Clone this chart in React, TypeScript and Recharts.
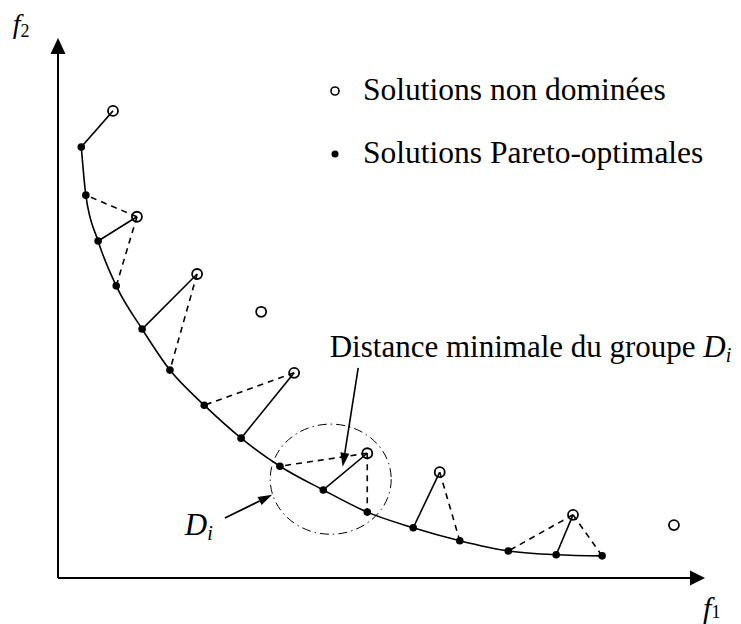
import React from 'react';
import {
  ComposedChart, Line, Scatter, XAxis, YAxis, ReferenceLine, ReferenceDot,
  ReferenceArea, Legend,
} from 'recharts';

// Pareto front (filled dots), in objective units
const PARETO_F1 = [3.6, 4.3, 6.2, 9.0, 13.0, 17.3, 22.6, 28.3, 34.3, 41.0, 47.8, 54.9, 62.1, 69.6, 77.0, 84.1];
const PARETO_F2 = [79.8, 70.9, 62.4, 54.1, 46.1, 38.5, 32.0, 25.9, 20.7, 16.3, 12.2, 9.3, 6.9, 5.0, 4.3, 4.1];

// non-dominated solutions (open circles)
const OPEN_F1 = [8.5, 12.2, 21.5, 31.4, 36.5, 47.8, 59.0, 79.6, 95.2];
const OPEN_F2 = [86.5, 66.9, 56.3, 49.3, 38.0, 23.1, 19.6, 11.7, 9.8];

// [open solution, pareto solution, dashed]
const LINKS: [number, number, boolean][] = [
  [0, 0, false],
  [1, 1, true], [1, 2, false], [1, 3, true],
  [2, 4, false], [2, 5, true],
  [4, 6, true], [4, 7, false],
  [5, 8, true], [5, 9, false], [5, 10, true],
  [6, 11, false], [6, 12, true],
  [7, 13, true], [7, 14, false], [7, 15, true],
];

// group D_i outline: f1 range, f2 range
const GROUP_F1 = [32.8, 51.5];
const GROUP_F2 = [8.1, 28.5];

// annotation arrows: [from, to]
const DIST_ARROW = [{ x: 46.4, y: 38.9 }, { x: 44.0, y: 20.6 }];
const GROUP_ARROW = [{ x: 25.8, y: 11.1 }, { x: 33.1, y: 15.4 }];

const LEGEND_ITEMS = [
  { label: 'Solutions non dominées', filled: false },
  { label: 'Solutions Pareto-optimales', filled: true },
];

const pareto = PARETO_F1.map((f1, i) => ({ f1, f2: PARETO_F2[i] }));
const open = OPEN_F1.map((f1, i) => ({ f1, f2: OPEN_F2[i] }));

const SERIF = '"Liberation Serif", "Times New Roman", serif';

const arrowShape = (len: number, half: number, width: number) => (p: any) => {
  const { x1, y1, x2, y2 } = p;
  const a = Math.atan2(y2 - y1, x2 - x1);
  const bx = x2 - len * Math.cos(a);
  const by = y2 - len * Math.sin(a);
  const nx = -Math.sin(a) * half;
  const ny = Math.cos(a) * half;
  return (
    <g>
      <line x1={x1} y1={y1} x2={bx} y2={by} stroke="#000" strokeWidth={width} />
      <polygon points={`${x2},${y2} ${bx + nx},${by + ny} ${bx - nx},${by - ny}`} fill="#000" />
    </g>
  );
};

const OpenDot = (p: any) => (
  <circle cx={p.cx} cy={p.cy} r={5} fill="none" stroke="#000" strokeWidth={1.8} />
);

const LegendBox = () => (
  <div style={{ fontFamily: SERIF, fontSize: 31.5, color: '#000' }}>
    {LEGEND_ITEMS.map((it) => (
      <div key={it.label} style={{ position: 'relative', height: 63, lineHeight: '63px', whiteSpace: 'nowrap' }}>
        <svg width={12} height={12} style={{ position: 'absolute', left: 0, top: 27 }}>
          {it.filled
            ? <circle cx={6} cy={6} r={3.5} fill="#000" />
            : <circle cx={6} cy={6} r={4} fill="none" stroke="#000" strokeWidth={1.6} />}
        </svg>
        <span style={{ position: 'absolute', left: 34 }}>{it.label}</span>
      </div>
    ))}
  </div>
);

const textAt = (children: React.ReactNode, size: number, italic = false) => (p: any) => (
  <text x={p.cx} y={p.cy} fontFamily={SERIF} fontSize={size} fontStyle={italic ? 'italic' : 'normal'} fill="#000">
    {children}
  </text>
);

export default function App() {
  return (
    <div style={{ position: 'absolute', left: 0, top: 0, background: '#fff' }}>
      <ComposedChart width={741} height={624} margin={{ top: 38, right: 36, bottom: 46, left: 58 }}>
        <XAxis type="number" dataKey="f1" domain={[0, 100]} hide />
        <YAxis type="number" dataKey="f2" domain={[0, 100]} hide />
        <Legend
          layout="vertical" align="center" verticalAlign="middle"
          wrapperStyle={{ left: 329, top: 58, width: 400 }}
          content={<LegendBox />}
        />

        {/* axes with arrow heads */}
        <ReferenceLine segment={[{ x: 0, y: 0 }, { x: 100, y: 0 }]} ifOverflow="visible" shape={arrowShape(15, 7.5, 2)} />
        <ReferenceLine segment={[{ x: 0, y: 0 }, { x: 0, y: 100 }]} ifOverflow="visible" shape={arrowShape(16, 7.5, 2)} />

        {/* group D_i */}
        <ReferenceArea
          x1={GROUP_F1[0]} x2={GROUP_F1[1]} y1={GROUP_F2[0]} y2={GROUP_F2[1]} ifOverflow="visible"
          shape={(p: any) => (
            <ellipse cx={p.x + p.width / 2} cy={p.y + p.height / 2} rx={p.width / 2} ry={p.height / 2}
              fill="none" stroke="#000" strokeWidth={1} strokeDasharray="9 4 1.5 4" />
          )}
        />

        {LINKS.map(([o, q, dashed], i) => (
          <ReferenceLine
            key={`link-${i}`}
            segment={[{ x: OPEN_F1[o], y: OPEN_F2[o] }, { x: PARETO_F1[q], y: PARETO_F2[q] }]}
            stroke="#000" strokeWidth={1.6} strokeDasharray={dashed ? '6 5' : undefined}
            ifOverflow="visible"
          />
        ))}

        <ReferenceLine segment={DIST_ARROW} ifOverflow="visible" shape={arrowShape(14, 4.5, 1.6)} />
        <ReferenceLine segment={GROUP_ARROW} ifOverflow="visible" shape={arrowShape(14, 4.5, 1.8)} />

        <Line data={pareto} dataKey="f2" type="monotone" stroke="#000" strokeWidth={1.6}
          dot={{ r: 3.8, fill: '#000', stroke: '#000', strokeWidth: 0 }} activeDot={false} isAnimationActive={false} />
        <Scatter data={open} dataKey="f2" shape={<OpenDot />} isAnimationActive={false} />

        {/* labels */}
        <ReferenceDot x={-7.0} y={100.9} ifOverflow="visible"
          shape={textAt(<><tspan fontStyle="italic">f</tspan><tspan fontSize={18} dy={4}>2</tspan></>, 28)} />
        <ReferenceDot x={99.7} y={-7.4} ifOverflow="visible"
          shape={textAt(<><tspan fontStyle="italic">f</tspan><tspan fontSize={18} dy={0}>1</tspan></>, 30)} />
        <ReferenceDot x={42.0} y={40.9} ifOverflow="visible"
          shape={textAt(<>Distance minimale du groupe <tspan fontStyle="italic">D</tspan><tspan fontStyle="italic" fontSize={20} dy={5}>i</tspan></>, 31)} />
        <ReferenceDot x={19.6} y={8.0} ifOverflow="visible"
          shape={textAt(<><tspan fontStyle="italic">D</tspan><tspan fontStyle="italic" fontSize={20} dy={5}>i</tspan></>, 31)} />
      </ComposedChart>
    </div>
  );
}
